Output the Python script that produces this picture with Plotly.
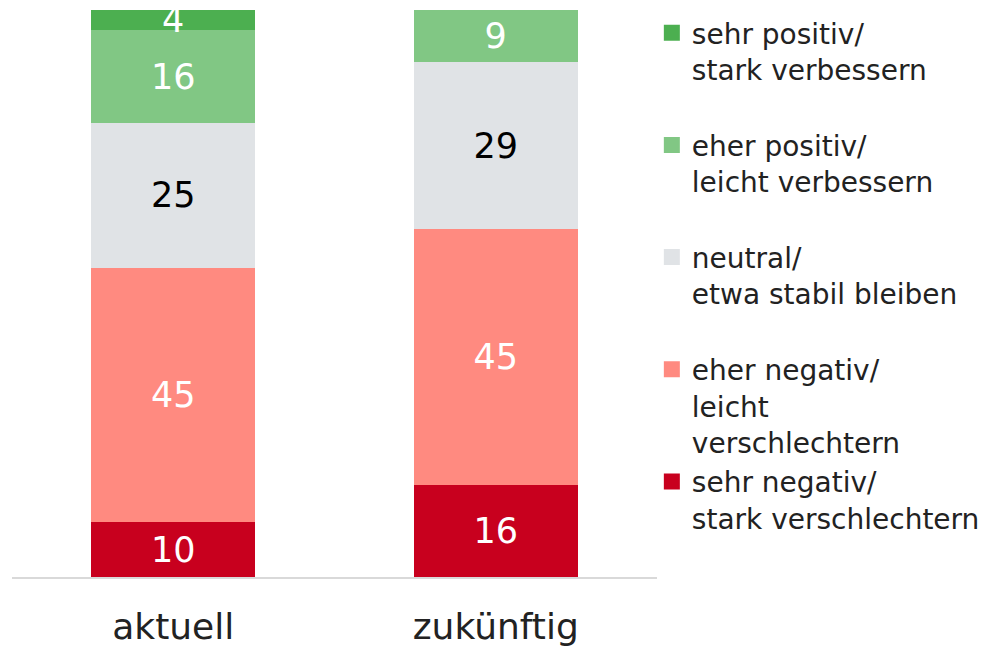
import plotly.graph_objects as go

categories = ["aktuell", "zukünftig"]
series_names = [
    "sehr negativ/<br>stark verschlechtern",
    "eher negativ/<br>leicht<br>verschlechtern",
    "neutral/<br>etwa stabil bleiben<br> ",
    "eher positiv/<br>leicht verbessern<br> ",
    "sehr positiv/<br>stark verbessern<br> ",
]
sehr_negativ = [9.7, 16.2]
eher_negativ = [44.8, 45.1]
neutral = [25.6, 29.5]
eher_positiv = [16.3, 9.2]
sehr_positiv = [3.6, 0]
labels = [
    ["10", "16"],
    ["45", "45"],
    ["25", "29"],
    ["16", "9"],
    ["4", ""],
]
colors = ["#C8001E", "#FF8A80", "#E0E3E6", "#81C784", "#4CAF50"]
text_colors = ["white", "white", "black", "white", "white"]

values = [sehr_negativ, eher_negativ, neutral, eher_positiv, sehr_positiv]

FONT = "Verdana, DejaVu Sans, sans-serif"

fig = go.Figure()
for name, vals, lab, col, tcol in zip(series_names, values, labels, colors, text_colors):
    fig.add_trace(go.Bar(
        x=categories, y=vals, name=name,
        marker=dict(color=col, line=dict(width=0)),
        text=lab, textposition="inside", insidetextanchor="middle",
        textangle=0, constraintext="none",
        textfont=dict(color=tcol, size=35, family=FONT),
        hoverinfo="skip", showlegend=False,
    ))

# legend entries (square swatches), top to bottom
for name, col in reversed(list(zip(series_names, colors))):
    fig.add_trace(go.Scatter(
        x=[None], y=[None], mode="markers", name=name,
        marker=dict(symbol="square", size=17, color=col, line=dict(width=0)),
        hoverinfo="skip", showlegend=True,
    ))

fig.update_layout(
    barmode="stack",
    bargap=0.49,
    width=986, height=639,
    margin=dict(l=4, r=337, t=2, b=70, autoexpand=False),
    paper_bgcolor="white", plot_bgcolor="white",
    font=dict(family=FONT, color="#222222"),
    uniformtext=dict(minsize=35, mode="show"),
    legend=dict(
        traceorder="normal",
        x=0.992, xanchor="left", y=1.0035, yanchor="top",
        font=dict(size=28, family=FONT, color="#222222"),
        valign="top",
        itemclick=False,
        maxheight=639,
    ),
    showlegend=True,
)
fig.update_xaxes(
    showline=True, linecolor="#D9D9D9", linewidth=2,
    ticks="", showgrid=False, automargin=False,
    ticklabelstandoff=17,
    tickfont=dict(size=36, family=FONT, color="#222222"),
)
fig.update_yaxes(range=[0, 100], visible=False, showgrid=False, automargin=False)

fig.write_html("out.html")
